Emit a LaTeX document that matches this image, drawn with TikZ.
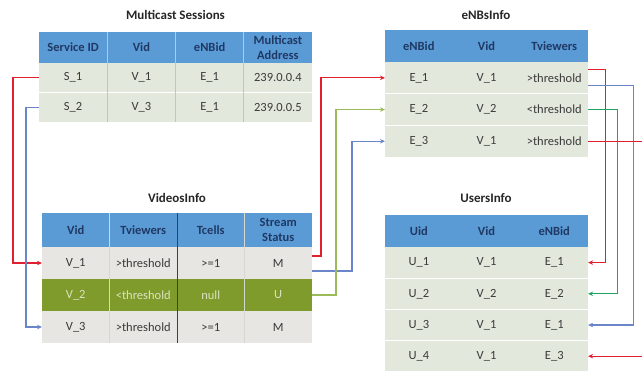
\documentclass[tikz,border=0pt]{standalone}
\usepackage{fontspec}
\setmainfont{Carlito}
\usetikzlibrary{arrows.meta}

\definecolor{hdrblue}{HTML}{5B9BD5}
\definecolor{hdrtext}{HTML}{1F3864}
\definecolor{rowgrey}{HTML}{E3E8DD}
\definecolor{rowbeige}{HTML}{E8E6E2}
\definecolor{rowolive}{HTML}{7F9B2B}
\definecolor{olivetext}{HTML}{DCE3C2}
\definecolor{celltext}{HTML}{3A3A3A}
\definecolor{sepgrey}{HTML}{C2C7BC}
\definecolor{linkred}{HTML}{E0202F}
\definecolor{linkblue}{HTML}{6A85C8}
\definecolor{linkgreen}{HTML}{1FA463}
\definecolor{linkolive}{HTML}{9BBB59}

\begin{document}
\begin{tikzpicture}[x=1pt,y=-1pt,
  basecell/.style={anchor=north west, inner sep=0pt, outer sep=0pt, align=center,
    font=\fontsize{12.5}{14}\selectfont},
  hdrcell/.style={basecell, fill=hdrblue, text=hdrtext,
    font=\bfseries\fontsize{12.5}{14.5}\selectfont},
  bodycell/.style={basecell, fill=rowgrey, text=celltext},
  tabtitle/.style={inner sep=0pt, text=black!85, font=\bfseries\fontsize{13}{15}\selectfont},
  colsep/.style={sepgrey, line width=0.6pt},
  rowsep/.style={white, line width=0.8pt},
  link/.style={line width=1.2pt, -{Stealth[length=5pt,width=4.5pt]}}]

\useasboundingbox (0,0) rectangle (642,370);
\clip (0,0) rectangle (642,370);

% ---------------- Multicast Sessions ----------------
\node[tabtitle] (ms-title) at (175.5,15) {Multicast Sessions};
\foreach \t [count=\c] in {Service ID, Vid, eNBid, {Multicast\\Address}}
  \node[hdrcell, minimum width=68.25pt, minimum height=31pt] (ms-0-\c)
    at ({39+(\c-1)*68.25},32) {\t};
\foreach \a/\b/\e/\d [count=\r] in {S\_1/V\_1/E\_1/239.0.0.4, S\_2/V\_3/E\_1/239.0.0.5}
  \foreach \t [count=\c] in {\a,\b,\e,\d}
    \node[bodycell, minimum width=68.25pt, minimum height=29.5pt] (ms-\r-\c)
      at ({39+(\c-1)*68.25},{63+(\r-1)*29.5}) {\t};
\draw[rowsep] (ms-1-1.south west) -- (ms-1-4.south east);
\foreach \c in {1,2,3}
  \draw[colsep] (ms-0-\c.north east) -- (ms-2-\c.south east);

% ---------------- eNBsInfo ----------------
\node[tabtitle] (en-title) at (486,15) {eNBsInfo};
\foreach \t [count=\c] in {eNBid, Vid, Tviewers}
  \node[hdrcell, minimum width=67.7pt, minimum height=32pt] (en-0-\c)
    at ({385+(\c-1)*67.7},30) {\t};
\foreach \a/\b/\e [count=\r] in {E\_1/V\_1/>threshold, E\_2/V\_2/<threshold, E\_3/V\_1/>threshold}
  \foreach \t [count=\c] in {\a,\b,\e}
    \node[bodycell, minimum width=67.7pt, minimum height=31.7pt] (en-\r-\c)
      at ({385+(\c-1)*67.7},{62+(\r-1)*31.7}) {\t};
\foreach \r in {1,2}
  \draw[rowsep] (en-\r-1.south west) -- (en-\r-3.south east);

% ---------------- VideosInfo ----------------
\node[tabtitle] (vi-title) at (177,198) {VideosInfo};
\foreach \t [count=\c] in {Vid, Tviewers, Tcells, {Stream\\Status}}
  \node[hdrcell, minimum width=67.5pt, minimum height=34pt] (vi-0-\c)
    at ({42+(\c-1)*67.5},213) {\t};
\foreach \a/\b/\e/\d [count=\r] in {V\_1/>threshold/>=1/M, V\_2/<threshold/null/U, V\_3/>threshold/>=1/M}
  \foreach \t [count=\c] in {\a,\b,\e,\d}
    \node[bodycell, fill=rowbeige, minimum width=67.5pt, minimum height=32pt] (vi-\r-\c)
      at ({42+(\c-1)*67.5},{247+(\r-1)*32}) {\t};
% the stream in state U is highlighted
\foreach \t [count=\c] in {V\_2, <threshold, null, U}
  \node[bodycell, fill=rowolive, text=olivetext, minimum width=67.5pt, minimum height=32pt]
    (vi-2-\c) at ({42+(\c-1)*67.5},279) {\t};
\foreach \c in {1,3}
  \draw[colsep, sepgrey!70] (vi-0-\c.north east) -- (vi-3-\c.south east);
\draw[black!75, line width=1pt] (vi-0-2.north east) -- (vi-3-2.south east);

% ---------------- UsersInfo ----------------
\node[tabtitle] (ui-title) at (486,198) {UsersInfo};
\foreach \t [count=\c] in {Uid, Vid, eNBid}
  \node[hdrcell, minimum width=67.7pt, minimum height=32pt] (ui-0-\c)
    at ({385+(\c-1)*67.7},215) {\t};
\foreach \a/\b/\e [count=\r] in {U\_1/V\_1/E\_1, U\_2/V\_2/E\_2, U\_3/V\_1/E\_1, U\_4/V\_1/E\_3}
  \foreach \t [count=\c] in {\a,\b,\e}
    \node[bodycell, minimum width=67.7pt, minimum height=31.2pt] (ui-\r-\c)
      at ({385+(\c-1)*67.7},{247+(\r-1)*31.2}) {\t};
\foreach \r in {1,2,3}
  \draw[rowsep] (ui-\r-1.south west) -- (ui-\r-3.south east);

% ---------------- links ----------------
\draw[link, linkred]   (ms-1-1.west) -- ++(-26,0) |- (vi-1-1.west);
\draw[link, linkblue]  (ms-2-1.west) -- ++(-13,0) |- (vi-3-1.west);

\draw[link, linkred]   ([yshift=7pt]vi-1-4.east) -- ++(9,0) |- (en-1-1.west);
\draw[link, linkblue]  ([yshift=-8pt]vi-1-4.east) -- ++(40,0) |- (en-3-1.west);
\draw[link, linkolive] (vi-2-4.east) -- ++(24,0) |- (en-2-1.west);

\draw[link, linkred]   ([yshift=8pt]en-1-3.east) -- ++(17,0) |- (ui-1-3.east);
\draw[link, linkblue]  ([yshift=-8pt]en-1-3.east) -- ++(45,0) |- (ui-3-3.east);
\draw[link, linkgreen] (en-2-3.east) -- ++(29,0) |- (ui-2-3.east);
\draw[link, linkred]   (en-3-3.east) -- ++(70,0) |- (ui-4-3.east);
\end{tikzpicture}
\end{document}
